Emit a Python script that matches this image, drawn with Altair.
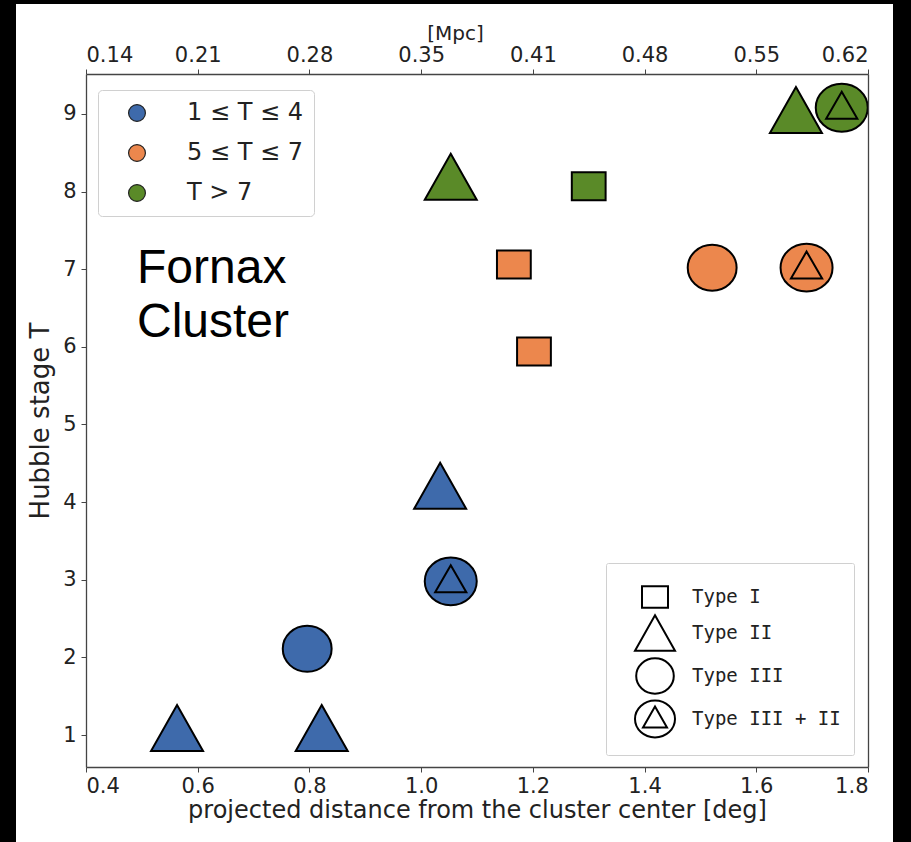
import altair as alt
import pandas as pd

# ---- data ----
deg = [0.563, 0.822, 0.796, 1.053, 1.034, 1.166, 1.202, 1.521, 1.690, 1.053, 1.300, 1.671, 1.753]
stage = [1.09, 1.09, 2.11, 2.98, 4.21, 7.06, 5.94, 7.02, 7.02, 8.19, 8.07, 9.05, 9.08]
profile = ["Type II", "Type II", "Type III", "Type III + II", "Type II",
           "Type I", "Type I", "Type III", "Type III + II",
           "Type II", "Type I", "Type II", "Type III + II"]
group = ["1 ≤ T ≤ 4"] * 5 + ["5 ≤ T ≤ 7"] * 4 + ["T > 7"] * 4

groups = ["1 ≤ T ≤ 4", "5 ≤ T ≤ 7", "T > 7"]
group_colors = ["#3E6AAB", "#EC874D", "#5A8A28"]
profile_types = ["Type I", "Type II", "Type III", "Type III + II"]
shape_paths = [
    "M-0.65,-0.54H0.65V0.54H-0.65Z",
    "M0,-0.885L1,0.885L-1,0.885Z",
    "M0.94,0A0.94,0.885,0,1,1,-0.94,0A0.94,0.885,0,1,1,0.94,0Z",
    "M1,0A1,0.92,0,1,1,-1,0A1,0.92,0,1,1,1,0Z M0,-0.62L0.6,0.42L-0.6,0.42Z",
]

x_ticks = [0.4, 0.6, 0.8, 1.0, 1.2, 1.4, 1.6, 1.8]
mpc_labels = ["0.14", "0.21", "0.28", "0.35", "0.41", "0.48", "0.55", "0.62"]
y_ticks = [1, 2, 3, 4, 5, 6, 7, 8, 9]

df = pd.DataFrame({"deg": deg, "T": stage, "profile": profile, "group": group})

x_scale = alt.Scale(domain=[0.4, 1.8], nice=False, zero=False)
y_scale = alt.Scale(domain=[0.588, 9.515], nice=False, zero=False)

mpc_array = "[" + ",".join("'" + s + "'" for s in mpc_labels) + "]"
top_label_expr = mpc_array + "[round((datum.value - 0.4) / 0.2)]"

# white panel behind the figure (decorative)
panel = alt.Chart(alt.Data(values=[{"a": 1}])).mark_rect(color="white").encode(
    x=alt.value(-70), x2=alt.value(807), y=alt.value(-70), y2=alt.value(768)
)

points = alt.Chart(df).mark_point(
    filled=True, size=2704, stroke="black", strokeWidth=2, opacity=1
).encode(
    x=alt.X("deg:Q", scale=x_scale,
            axis=alt.Axis(orient="bottom", values=x_ticks, format=".1f",
                          title="projected distance from the cluster center [deg]",
                          labelPadding=3, titlePadding=2, zindex=2)),
    y=alt.Y("T:Q", scale=y_scale,
            axis=alt.Axis(orient="left", values=y_ticks, title="Hubble stage T",
                          titleFontSize=26, labelPadding=5, titlePadding=9, zindex=2)),
    fill=alt.Fill("group:N", scale=alt.Scale(domain=groups, range=group_colors),
                  legend=alt.Legend(title=None, orient="none", legendX=12, legendY=16,
                                    symbolType="circle", symbolSize=283,
                                    symbolStrokeColor="#222", symbolStrokeWidth=1.2,
                                    labelFont="DejaVu Sans", labelFontSize=24,
                                    labelColor="#222", labelOffset=38,
                                    symbolOffset=16, rowPadding=16, padding=11,
                                    strokeColor="#d0d0d0", fillColor="white",
                                    cornerRadius=4)),
    shape=alt.Shape("profile:N", scale=alt.Scale(domain=profile_types, range=shape_paths),
                    legend=alt.Legend(title=None, orient="none", legendX=520, legendY=489,
                                      symbolSize=1600, symbolFillColor="white",
                                      symbolStrokeColor="black", symbolStrokeWidth=2,
                                      labelFont="DejaVu Sans Mono", labelFontSize=19,
                                      labelColor="#222", labelOffset=16,
                                      symbolOffset=15, rowPadding=-2, padding=13,
                                      strokeColor="#d0d0d0", fillColor="white",
                                      cornerRadius=2)),
)

secondary = alt.Chart(df).mark_point(opacity=0).encode(
    x=alt.X("deg:Q", scale=x_scale,
            axis=alt.Axis(orient="top", values=x_ticks, labelExpr=top_label_expr,
                          title="[Mpc]", titleFontSize=20, titleX=369,
                          labelPadding=4, titlePadding=1, zindex=2)),
    y=alt.Y("T:Q", scale=y_scale,
            axis=alt.Axis(orient="right", values=y_ticks, labels=False, ticks=False,
                          title=None, zindex=2)),
)

annotation = alt.Chart(alt.Data(values=[{"a": 1}])).mark_text(
    align="left", baseline="middle", font="Liberation Sans", fontSize=48,
    lineHeight=54, color="black"
).encode(
    x=alt.value(51), y=alt.value(195), text=alt.value(["Fornax", "Cluster"])
)

chart = alt.layer(panel, points, secondary, annotation).properties(
    width=782, height=693,
    autosize=alt.AutoSizeParams(type="none"),
    padding={"left": 86, "top": 74, "right": 43, "bottom": 75},
    background="black",
).configure_view(stroke=None).configure_axis(
    grid=False, domainColor="#444", domainWidth=1.3, tickColor="#444",
    tickSize=5, labelColor="#222", titleColor="#222", labelFont="DejaVu Sans",
    titleFont="DejaVu Sans", labelFontSize=21, titleFontSize=24,
    titleFontWeight="normal",
)

chart.save("out.html", embed_options={"renderer": "svg", "actions": False})
